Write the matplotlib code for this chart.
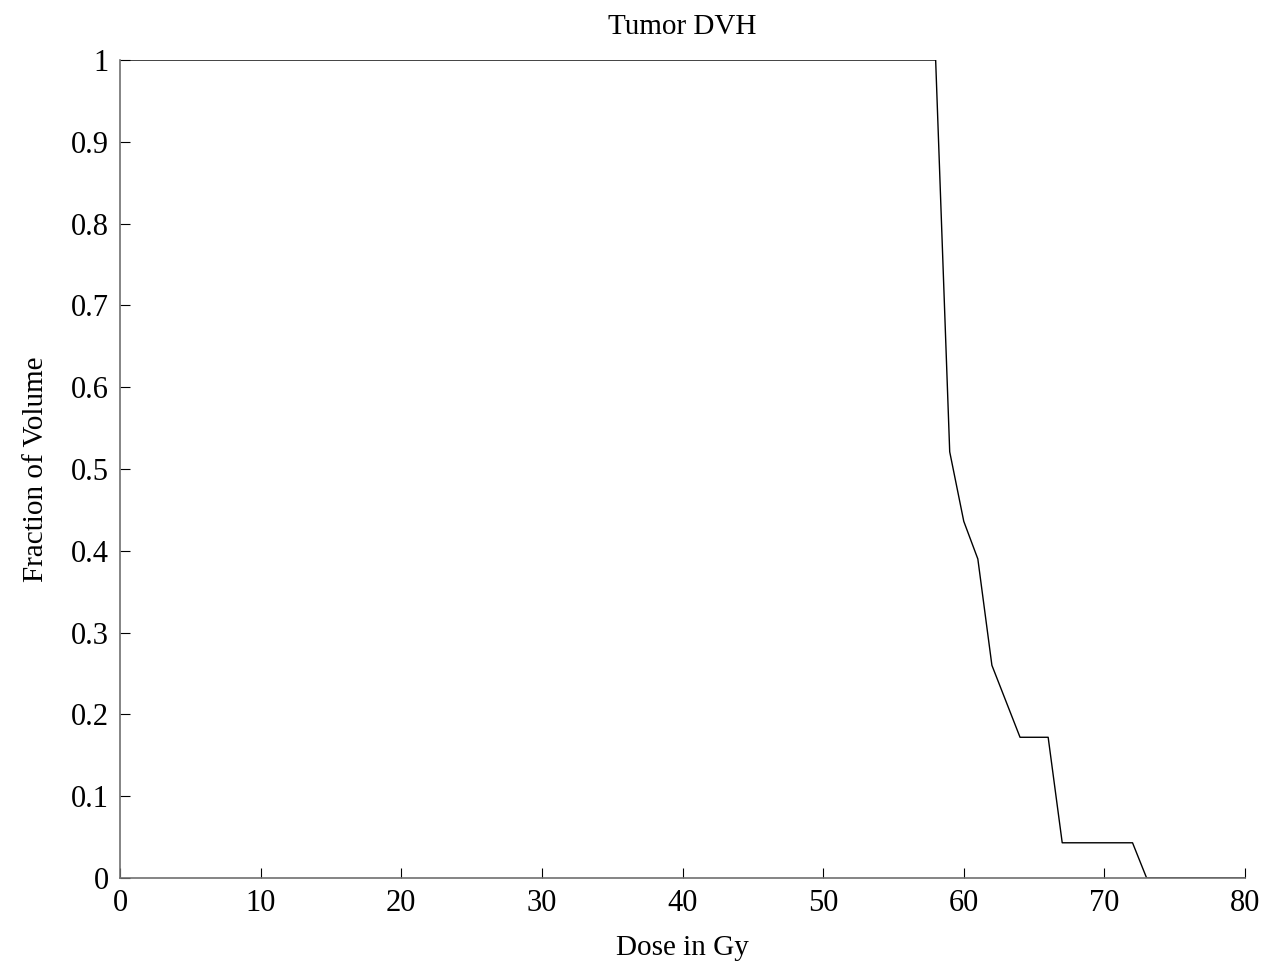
import matplotlib
matplotlib.use("Agg")
import matplotlib.pyplot as plt
import numpy as np

# cumulative dose-volume histogram of the tumour, 1 Gy bins
dose = np.arange(0, 81)
frac_tail = [1.0, 0.521, 0.436, 0.390, 0.260, 0.216, 0.172, 0.172, 0.172,
             0.043, 0.043, 0.043, 0.043, 0.043, 0.043, 0.0]
frac_volume = np.concatenate([np.ones(58), frac_tail, np.zeros(81 - 58 - len(frac_tail))])

x_ticks = np.arange(0, 81, 10)
y_ticks = np.round(np.arange(0, 1.01, 0.1), 1)
y_labels = ["0"] + [f"{v:g}" for v in y_ticks[1:-1]] + ["1"]

plt.rcParams['font.family'] = ['Liberation Serif', 'DejaVu Serif']

fig = plt.figure(figsize=(12.68, 9.65), dpi=100)
ax = fig.add_axes([0.0946, 0.0902, 0.8873, 0.8476])

ax.plot(dose, frac_volume, color='black', linewidth=1.0)

ax.set_xlim(0, 80)
ax.set_ylim(0, 1)
ax.set_xticks(x_ticks)
ax.set_yticks(y_ticks)
ax.set_yticklabels(y_labels)

for side in ['top', 'right']:
    ax.spines[side].set_visible(False)
for side in ['left', 'bottom']:
    ax.spines[side].set_color('#707070')
    ax.spines[side].set_linewidth(1.2)

ax.tick_params(direction='in', length=7, width=0.8, colors='black',
               labelsize=22, pad=8)

ax.set_title('Tumor DVH', fontsize=21, pad=19)
ax.set_xlabel('Dose in Gy', fontsize=21, labelpad=12)
ax.set_ylabel('Fraction of Volume', fontsize=21, labelpad=16)

fig.savefig('out.png', dpi=100, facecolor='white')
